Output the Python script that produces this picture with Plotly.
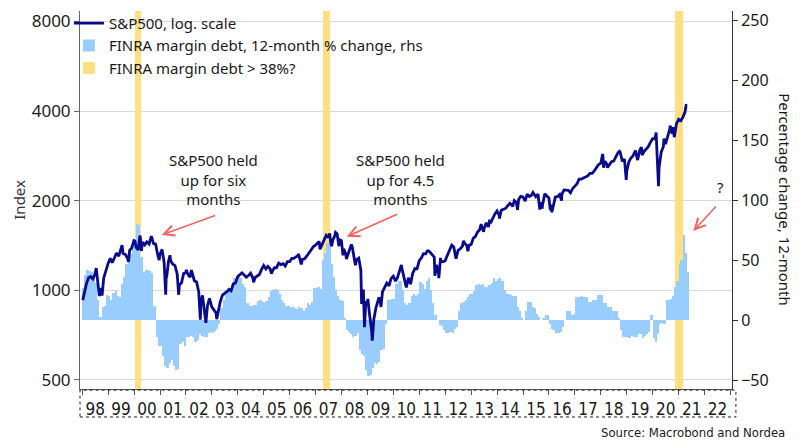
import numpy as np
import pandas as pd
import plotly.graph_objects as go

# ---------------------------------------------------------------
# Data
# ---------------------------------------------------------------
# S&P500 month-end closes, Jan 1998 .. Apr 2021
sp500_month_end = [
    980, 1049, 1102, 1112, 1091, 1134, 1121, 957, 1017, 1099, 1164, 1229,      # 1998
    1280, 1238, 1286, 1335, 1302, 1373, 1329, 1320, 1283, 1363, 1389, 1469,    # 1999
    1394, 1366, 1499, 1452, 1421, 1455, 1431, 1518, 1437, 1429, 1315, 1320,    # 2000
    1366, 1240, 1160, 1249, 1256, 1224, 1211, 1134, 1041, 1060, 1139, 1148,    # 2001
    1130, 1107, 1147, 1077, 1067, 990, 912, 916, 815, 886, 936, 880,           # 2002
    856, 841, 848, 917, 964, 975, 990, 1008, 996, 1051, 1058, 1112,            # 2003
    1131, 1145, 1126, 1107, 1121, 1141, 1102, 1104, 1115, 1130, 1174, 1212,    # 2004
    1181, 1204, 1181, 1157, 1192, 1191, 1234, 1220, 1229, 1207, 1249, 1248,    # 2005
    1280, 1281, 1295, 1311, 1270, 1270, 1277, 1304, 1336, 1378, 1401, 1418,    # 2006
    1438, 1407, 1421, 1482, 1531, 1503, 1455, 1474, 1527, 1549, 1481, 1468,    # 2007
    1379, 1331, 1323, 1386, 1400, 1280, 1267, 1283, 1166, 969, 896, 903,       # 2008
    826, 735, 798, 873, 919, 919, 987, 1021, 1057, 1036, 1096, 1115,           # 2009
    1074, 1104, 1169, 1187, 1089, 1031, 1102, 1049, 1141, 1183, 1181, 1258,    # 2010
    1286, 1327, 1326, 1364, 1345, 1321, 1292, 1219, 1131, 1253, 1247, 1258,    # 2011
    1312, 1366, 1408, 1398, 1310, 1362, 1379, 1407, 1441, 1412, 1416, 1426,    # 2012
    1498, 1515, 1569, 1598, 1631, 1606, 1686, 1633, 1682, 1757, 1806, 1848,    # 2013
    1783, 1859, 1872, 1884, 1924, 1960, 1931, 2003, 1972, 2018, 2068, 2059,    # 2014
    1995, 2105, 2068, 2086, 2107, 2063, 2104, 1972, 1920, 2079, 2080, 2044,    # 2015
    1940, 1932, 2060, 2065, 2097, 2099, 2174, 2171, 2168, 2126, 2199, 2239,    # 2016
    2279, 2364, 2363, 2384, 2412, 2423, 2470, 2472, 2519, 2575, 2648, 2674,    # 2017
    2824, 2714, 2641, 2648, 2705, 2718, 2816, 2902, 2914, 2712, 2760, 2507,    # 2018
    2704, 2784, 2834, 2946, 2752, 2942, 2980, 2926, 2977, 3038, 3141, 3231,    # 2019
    3226, 2954, 2585, 2912, 3044, 3100, 3271, 3500, 3363, 3270, 3622, 3756,    # 2020
    3714, 3811, 3973, 4181,                                                    # 2021
]

# intra-month highs / lows that show up in the line
sp500_extra_dates = [
    "1998-01-09", "1998-07-17", "1998-10-08", "1999-07-16", "1999-10-15",
    "2000-01-14", "2000-03-24", "2000-04-14", "2000-09-01", "2000-12-20",
    "2001-01-30", "2001-03-22", "2001-04-04", "2001-05-21", "2001-09-21",
    "2002-01-04", "2002-03-19", "2002-07-23", "2002-08-22", "2002-10-09",
    "2002-11-27", "2003-03-11", "2004-08-12", "2005-04-20", "2006-05-05",
    "2006-06-13", "2007-02-20", "2007-03-05", "2007-07-19", "2007-08-15",
    "2007-10-09", "2007-11-26", "2008-01-22", "2008-03-10", "2008-05-19",
    "2008-07-15", "2008-10-10", "2008-11-04", "2008-11-20", "2008-12-08",
    "2009-01-06", "2009-03-09", "2009-06-12", "2009-07-10", "2010-04-23",
    "2010-07-02", "2011-05-02", "2011-08-08", "2011-10-03", "2011-10-27",
    "2012-04-02", "2012-06-01", "2012-09-14", "2012-11-15", "2013-05-21",
    "2013-06-24", "2013-09-18", "2014-02-03", "2014-08-07", "2014-10-15",
    "2015-05-21", "2015-08-25", "2015-09-28", "2015-11-03", "2016-01-20",
    "2016-02-11", "2016-06-27", "2018-01-26", "2018-02-08", "2018-04-02",
    "2018-09-20", "2018-12-24", "2019-05-03", "2019-06-03", "2019-07-26",
    "2019-08-05", "2020-02-19", "2020-03-23", "2020-06-08", "2020-09-02",
    "2020-10-12", "2021-04-16",
]
sp500_extra_values = [
    927, 1187, 959, 1418, 1247,
    1465, 1527, 1357, 1521, 1264,
    1373, 966, 1103, 1312, 966,
    1172, 1170, 797, 962, 777,
    938, 800, 1064, 1138, 1325,
    1223, 1460, 1374, 1553, 1407,
    1565, 1407, 1310, 1273, 1427,
    1214, 899, 1006, 752, 909,
    935, 677, 946, 879, 1217,
    1022, 1361, 1119, 1099, 1285,
    1419, 1278, 1466, 1353, 1669,
    1573, 1725, 1742, 1910, 1862,
    2131, 1868, 1882, 2109, 1859,
    1829, 2001, 2873, 2581, 2582,
    2931, 2351, 2946, 2744, 3026,
    2845, 3386, 2237, 3232, 3580,
    3535, 4185,
]

# FINRA margin debt, 12-month % change, monthly Jan 1998 .. May 2021
finra_yoy = [
    27, 38, 42, 41, 40, 36, 31, 17, 3, 11, 12, 21,             # 1998
    20, 17, 23, 24, 20, 19, 30, 36, 47, 50, 55, 61,            # 1999
    62, 80, 79, 53, 40, 42, 42, 41, 39, 12, -14, -22,          # 2000
    -22, -30, -38, -40, -36, -33, -38, -42, -41, -20, -18, -22,  # 2001
    -14, -14, -13, -14, -18, -17, -12, -13, -14, -14, -11, -10,  # 2002
    -11, -9, -7, -3, 10, 17, 22, 25, 27, 30, 35, 36,           # 2003
    36, 35, 30, 28, 14, 12, 12, 13, 13, 16, 17, 15,            # 2004
    14, 16, 19, 24, 25, 26, 25, 22, 17, 14, 12, 12,            # 2005
    10, 11, 10, 9, 11, 10, 8, 10, 14, 13, 15, 27,              # 2006
    27, 28, 26, 50, 56, 64, 64, 47, 36, 25, 20, 17,            # 2007
    16, 2, -8, -10, -12, -14, -13, -11, -25, -28, -30, -42,    # 2008
    -47, -46, -40, -36, -37, -35, -25, -24, -3, 17, 17, 18,    # 2009
    18, 30, 33, 33, 25, 14, 13, 14, 20, 22, 20, 22,            # 2010
    32, 30, 26, 33, 35, 25, 14, 4, 0, -4, -5, -8,              # 2011
    -11, -11, -10, -11, -7, -6, 8, 14, 15, 17, 19, 22,         # 2012
    22, 24, 29, 30, 29, 30, 28, 28, 29, 31, 35, 33,            # 2013
    34, 35, 33, 25, 22, 22, 21, 20, 20, 11, 8, 2,              # 2014
    0, 8, 15, 15, 11, 10, 5, 3, 0, 2, 4, 4,                    # 2015
    -3, -7, -8, -11, -11, -10, -6, 0, 8, 8, 4, 5,              # 2016
    19, 19, 19, 20, 19, 19, 15, 15, 17, 17, 21, 21,            # 2017
    21, 14, 14, 11, 11, 8, 8, 8, 2, -8, -14, -14,              # 2018
    -14, -15, -13, -14, -14, -12, -12, -15, -13, -12, -10, 4,  # 2019
    -15, -18, -12, -3, -2, -3, 17, 17, 18, 20, 28, 33,         # 2020
    47, 50, 71, 56, 40,                                        # 2021
]

# periods with FINRA margin debt growth above 38%
band_start = ["2000-01-20", "2007-04-18", "2020-11-12"]
band_end = ["2000-04-10", "2007-07-22", "2021-03-05"]

# ---------------------------------------------------------------
# Build series
# ---------------------------------------------------------------
sp_dates = pd.date_range("1998-01-31", periods=len(sp500_month_end), freq=pd.offsets.MonthEnd())
sp = pd.concat([
    pd.Series(sp500_month_end, index=sp_dates),
    pd.Series(sp500_extra_values, index=pd.to_datetime(sp500_extra_dates)),
]).sort_index()

m_start = pd.date_range("1998-01-01", periods=len(finra_yoy), freq=pd.offsets.MonthBegin())
m_len = (m_start + pd.offsets.MonthBegin()) - m_start
m_width = m_len / pd.Timedelta(milliseconds=1)
m_center = m_start + m_len / 2

b_start = pd.to_datetime(band_start)
b_end = pd.to_datetime(band_end)
b_width = (b_end - b_start) / pd.Timedelta(milliseconds=1)
b_center = b_start + (b_end - b_start) / 2

FONT = "Noto Sans"
NARROW = "Liberation Sans Narrow, DejaVu Sans Condensed, Arial Narrow"
TXT = "#1a1a1a"

fig = go.Figure()

# yellow bands (bottom layer)
fig.add_trace(go.Bar(
    x=b_center, y=[1] * len(b_center), width=list(b_width),
    marker=dict(color="#FFDF80", line=dict(width=0)),
    name="FINRA margin debt > 38%?", yaxis="y", legendrank=3,
    hoverinfo="skip",
))

# margin debt bars (rhs)
fig.add_trace(go.Bar(
    x=m_center, y=finra_yoy, width=list(m_width),
    marker=dict(color="#99CCFF", line=dict(width=0)),
    name="FINRA margin debt, 12-month % change, rhs", yaxis="y2", legendrank=2,
))

# S&P500 line (lhs, log)
fig.add_trace(go.Scatter(
    x=sp.index, y=sp.values, mode="lines",
    line=dict(color="#0A0A8C", width=2.8),
    name="S&P500, log. scale", yaxis="y3", legendrank=1,
))

# page body adds an 8px offset, so the figure is drawn 8px smaller
fig.update_layout(
    width=792, height=437,
    margin=dict(l=72, r=68, t=3, b=56, autoexpand=False),
    paper_bgcolor="white", plot_bgcolor="white",
    font=dict(family=FONT, color=TXT, size=15),
    showlegend=True,
    legend=dict(x=-0.017, y=1.011, xanchor="left", yanchor="top",
                bgcolor="rgba(0,0,0,0)", font=dict(size=15, color=TXT),
                itemwidth=30, tracegroupgap=0),
    xaxis=dict(
        type="date", range=["1997-12-01", "2023-01-22"],
        tick0="1998-01-01", dtick="M12", tickformat="%y", ticklabelmode="period",
        ticks="outside", ticklen=5, tickcolor="#555",
        showline=True, linecolor="#555", linewidth=1,
        showgrid=False, zeroline=False,
        tickfont=dict(family=NARROW, size=17, color=TXT),
    ),
    yaxis=dict(range=[0, 1], visible=False, fixedrange=True),
    yaxis2=dict(
        overlaying="y", side="right", anchor="x",
        range=[-57.5, 258], tickvals=[-50, 0, 50, 100, 150, 200, 250],
        ticks="outside", ticklen=5, tickcolor="#333",
        showline=True, linecolor="#333", linewidth=1,
        showgrid=False, zeroline=False,
        tickfont=dict(size=16, color=TXT),
    ),
    yaxis3=dict(
        overlaying="y", side="left", anchor="x", type="log",
        range=[np.log10(466), np.log10(8680)],
        tickvals=[500, 1000, 2000, 4000, 8000],
        ticks="outside", ticklen=5, tickcolor="#666",
        showline=True, linecolor="#666", linewidth=1,
        showgrid=True, gridcolor="#D9D9D9", gridwidth=1, zeroline=False,
        tickfont=dict(size=17, color=TXT),
    ),
    bargap=0,
)

# dotted frame around the year labels
fig.add_shape(type="rect", xref="paper", yref="paper",
              x0=0, x1=1.006, y0=-0.074, y1=-0.003,
              line=dict(color="#222", width=1, dash="dot"))

# axis titles
fig.add_annotation(text="Index", xref="paper", yref="paper", x=-0.094, y=0.5,
                   xanchor="center", yanchor="middle",
                   textangle=-90, showarrow=False, font=dict(size=15, color="#333"))
fig.add_annotation(text="Percentage change, 12-month", xref="paper", yref="paper",
                   x=1.081, y=0.5, xanchor="center", yanchor="middle",
                   textangle=90, showarrow=False, font=dict(size=15, color=TXT))

# comments on chart
fig.add_annotation(text="S&P500 held<br>up for six<br>months", xref="paper", yref="paper",
                   x=0.204, y=0.553, xanchor="center", yanchor="middle",
                   showarrow=False, font=dict(size=15, color=TXT))
fig.add_annotation(text="S&P500 held<br>up for 4.5<br>months", xref="paper", yref="paper",
                   x=0.4908, y=0.553, xanchor="center", yanchor="middle",
                   showarrow=False, font=dict(size=15, color=TXT))
fig.add_annotation(text="?", xref="paper", yref="paper",
                   x=0.983, y=0.534, xanchor="center", yanchor="middle",
                   showarrow=False, font=dict(size=15, color=TXT))

arrow = dict(showarrow=True, arrowhead=5, arrowsize=1.3, arrowwidth=1.6,
             arrowcolor="#F26363", standoff=0, text="", xref="paper", yref="paper")
fig.add_annotation(x=0.1253, y=0.4074, ax=55, ay=-20, **arrow)
fig.add_annotation(x=0.409, y=0.403, ax=52, ay=-23, **arrow)
fig.add_annotation(x=0.9406, y=0.418, ax=24, ay=-26, **arrow)

# source
fig.add_annotation(text="Source: Macrobond and Nordea", xref="paper", yref="paper",
                   x=1.084, y=-0.114, xanchor="right", yanchor="middle", showarrow=False,
                   font=dict(family=NARROW, size=13, color=TXT))

fig.write_html("out.html")
